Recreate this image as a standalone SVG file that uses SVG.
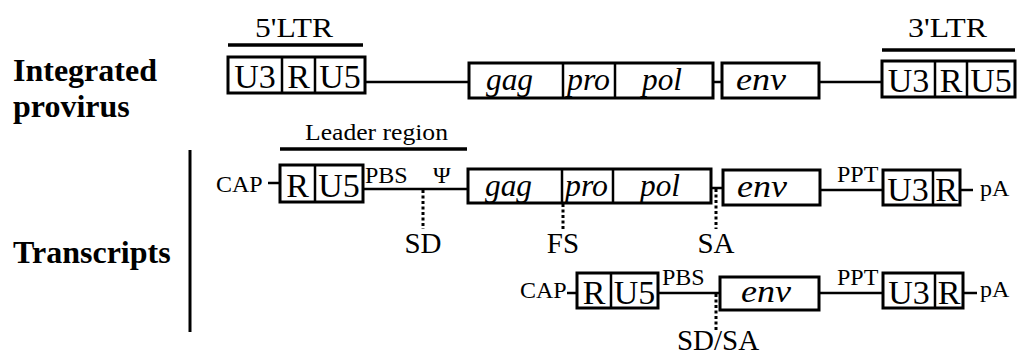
<svg xmlns="http://www.w3.org/2000/svg" width="1019" height="354" viewBox="0 0 1019 354">
<style>
text{font-family:"Liberation Serif","Times New Roman",serif;fill:#000}
.lab{font-weight:bold;font-size:32px}
.box{fill:#fff;stroke:#000;stroke-width:3}
.div{stroke:#000;stroke-width:2.5}
.ln{stroke:#000;stroke-width:2.5;fill:none}
.ov{stroke:#000;stroke-width:3.5}
.dot{stroke:#000;stroke-width:3;stroke-dasharray:3 2.5;fill:none}
.seg{font-size:34px;text-anchor:middle}
.gene{font-size:31px;font-style:italic}
.sm{font-size:24px}
.big{font-size:29px;text-anchor:middle}
.hdr{font-size:28px}
</style>
<rect width="1019" height="354" fill="#fff"/>

<g id="labels">
<text class="lab" x="13" y="81">Integrated</text>
<text class="lab" x="13" y="117">provirus</text>
<text class="lab" x="13" y="263">Transcripts</text>
<line x1="190" y1="150" x2="190" y2="332" stroke="#000" stroke-width="3"/>
</g>

<g id="connectors">
<!-- row 1 -->
<line class="ln" x1="365" y1="82" x2="469" y2="82"/>
<line class="ln" x1="713" y1="82" x2="722" y2="82"/>
<line class="ln" x1="819" y1="82" x2="882" y2="82"/>
<!-- row 2 -->
<line class="ln" x1="268" y1="183" x2="280" y2="183"/>
<line class="ln" x1="363" y1="189" x2="468" y2="189"/>
<line class="ln" x1="711" y1="188" x2="723" y2="188"/>
<line class="ln" x1="820" y1="190" x2="883" y2="190"/>
<line class="ln" x1="960" y1="190" x2="973" y2="190"/>
<line class="dot" x1="423" y1="190" x2="423" y2="229"/>
<line class="dot" x1="563" y1="204" x2="563" y2="229"/>
<line class="dot" x1="716" y1="189" x2="716" y2="229"/>
<!-- row 3 -->
<line class="ln" x1="567" y1="293" x2="577" y2="293"/>
<line class="ln" x1="658" y1="293" x2="720" y2="293"/>
<line class="ln" x1="819" y1="293" x2="883" y2="293"/>
<line class="ln" x1="963" y1="293" x2="977" y2="293"/>
<line class="dot" x1="716" y1="294" x2="716" y2="330"/>
</g>

<g id="ltr5">
<text class="hdr" x="255" y="37" textLength="78" lengthAdjust="spacingAndGlyphs">5'LTR</text>
<line class="ov" x1="228" y1="45" x2="363" y2="45"/>
<rect class="box" x="228" y="57" width="137" height="36"/>
<line class="div" x1="282" y1="57" x2="282" y2="93"/>
<line class="div" x1="315" y1="57" x2="315" y2="93"/>
<text class="seg" x="255" y="88">U3</text>
<text class="seg" x="298.5" y="88">R</text>
<text class="seg" x="340" y="88">U5</text>
</g>

<g id="gagpol1">
<rect class="box" x="469" y="63" width="244" height="35"/>
<line class="div" x1="563" y1="63" x2="563" y2="98"/>
<line class="div" x1="615" y1="63" x2="615" y2="98"/>
<text class="gene" x="486" y="90" textLength="47" lengthAdjust="spacingAndGlyphs">gag</text>
<text class="gene" x="567" y="90" textLength="43" lengthAdjust="spacingAndGlyphs">pro</text>
<text class="gene" x="642" y="90" textLength="40" lengthAdjust="spacingAndGlyphs">pol</text>
</g>

<g id="env1">
<rect class="box" x="722" y="63" width="97" height="35"/>
<text class="gene" x="736" y="90" textLength="50" lengthAdjust="spacingAndGlyphs">env</text>
</g>

<g id="ltr3">
<text class="hdr" x="908" y="37" textLength="79" lengthAdjust="spacingAndGlyphs">3'LTR</text>
<line class="ov" x1="882" y1="50" x2="1015" y2="50"/>
<rect class="box" x="882" y="61" width="133" height="36"/>
<line class="div" x1="935" y1="61" x2="935" y2="97"/>
<line class="div" x1="967" y1="61" x2="967" y2="97"/>
<text class="seg" x="908.5" y="92">U3</text>
<text class="seg" x="951" y="92">R</text>
<text class="seg" x="991" y="92">U5</text>
</g>

<g id="t1_leader">
<text class="sm" x="305" y="140" textLength="143" lengthAdjust="spacingAndGlyphs">Leader region</text>
<line class="ov" x1="280" y1="149" x2="467" y2="149"/>
</g>

<g id="t1_5end">
<text class="sm" x="216" y="192">CAP</text>
<rect class="box" x="280" y="165" width="83" height="37"/>
<line class="div" x1="315" y1="165" x2="315" y2="202"/>
<text class="seg" x="297.5" y="197">R</text>
<text class="seg" x="339" y="197">U5</text>
<text class="sm" x="365" y="183">PBS</text>
<text class="sm" x="433" y="183">Ψ</text>
</g>

<g id="t1_gagpol">
<rect class="box" x="468" y="169" width="243" height="34"/>
<line class="div" x1="562" y1="169" x2="562" y2="203"/>
<line class="div" x1="613" y1="169" x2="613" y2="203"/>
<text class="gene" x="485" y="196" textLength="47" lengthAdjust="spacingAndGlyphs">gag</text>
<text class="gene" x="565" y="196" textLength="43" lengthAdjust="spacingAndGlyphs">pro</text>
<text class="gene" x="640" y="196" textLength="40" lengthAdjust="spacingAndGlyphs">pol</text>
</g>

<g id="t1_env">
<rect class="box" x="723" y="170" width="97" height="35"/>
<text class="gene" x="737" y="197" textLength="50" lengthAdjust="spacingAndGlyphs">env</text>
</g>

<g id="t1_3end">
<text class="sm" x="837" y="182">PPT</text>
<rect class="box" x="883" y="170" width="77" height="35"/>
<line class="div" x1="933" y1="170" x2="933" y2="205"/>
<text class="seg" x="908" y="201">U3</text>
<text class="seg" x="946.5" y="201">R</text>
<text class="sm" x="980" y="196">pA</text>
</g>

<g id="t1_sites">
<text class="big" x="423" y="253">SD</text>
<text class="big" x="563" y="253">FS</text>
<text class="big" x="716" y="253">SA</text>
</g>

<g id="t2_5end">
<text class="sm" x="520" y="298">CAP</text>
<rect class="box" x="577" y="273" width="81" height="35"/>
<line class="div" x1="611" y1="273" x2="611" y2="308"/>
<text class="seg" x="594" y="304">R</text>
<text class="seg" x="634.5" y="304">U5</text>
<text class="sm" x="662" y="285">PBS</text>
</g>

<g id="t2_env">
<rect class="box" x="720" y="277" width="99" height="33"/>
<text class="gene" x="741" y="302" textLength="50" lengthAdjust="spacingAndGlyphs">env</text>
</g>

<g id="t2_3end">
<text class="sm" x="837" y="285">PPT</text>
<rect class="box" x="883" y="273" width="80" height="35"/>
<line class="div" x1="935" y1="273" x2="935" y2="308"/>
<text class="seg" x="909" y="304">U3</text>
<text class="seg" x="949" y="304">R</text>
<text class="sm" x="980" y="297">pA</text>
</g>

<g id="t2_site">
<text class="big" x="718" y="350">SD/SA</text>
</g>
</svg>
